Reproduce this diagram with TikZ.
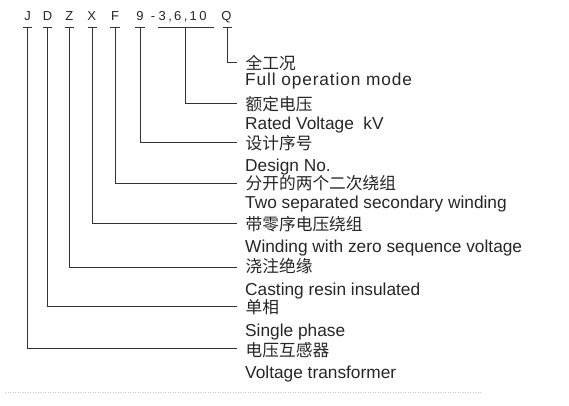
\documentclass[tikz,border=0pt]{standalone}
\usepackage{fontspec}
\setmainfont{Liberation Sans}
\newfontfamily\cjk{Noto Sans CJK SC}
\begin{document}
\begin{tikzpicture}[x=1pt,y=-1pt,
  lbl/.style={anchor=base,inner sep=0pt,font=\fontsize{13}{15}\selectfont,text=black!85},
  zh/.style={anchor=base west,inner sep=0pt,font=\cjk\fontsize{16.7}{18}\selectfont,text=black!85},
  en/.style={anchor=base west,inner sep=0pt,font=\fontsize{17.3}{20}\selectfont,text=black!85},
  ln/.style={draw=black!80,line width=0.9pt},
]
\useasboundingbox (0,0) rectangle (569,406);
% code letters
\node[lbl] (J) at (27.7,21) {J};
\node[lbl] (D) at (47.5,21) {D};
\node[lbl] (Z) at (69.3,21) {Z};
\node[lbl] (X) at (91.8,21) {X};
\node[lbl] (F) at (115,21) {F};
\node[lbl] (N) at (140,21) {9};
\node[lbl] (H) at (153,21) {-};
\node[lbl,anchor=base west] (V) at (158.5,21) {\addfontfeature{LetterSpace=18}3,6,10};
\node[lbl] (Q) at (226.5,21) {Q};
% tick points
\coordinate (tJ) at (27.7,27);
\coordinate (tD) at (47.7,27);
\coordinate (tZ) at (69.3,27);
\coordinate (tX) at (92.3,27);
\coordinate (tF) at (115,27);
\coordinate (tN) at (140,27);
\coordinate (tV) at (185.7,27);
\coordinate (tQ) at (227.7,27);
\foreach \t in {tJ,tD,tZ,tX,tF,tN,tQ}
  \draw[ln] ([xshift=-4.7pt]\t) -- ([xshift=4.7pt]\t);
\coordinate (vL) at (157.7,27);
\coordinate (vR) at (214.3,27);
\draw[ln] (vL) -- (vR);
% end points
\coordinate (eQ) at (237,62);
\coordinate (eV) at (237,103);
\coordinate (eN) at (237,142);
\coordinate (eF) at (237,183.3);
\coordinate (eX) at (237,223.5);
\coordinate (eZ) at (237,267);
\coordinate (eD) at (237,306);
\coordinate (eJ) at (237,348);
\draw[ln] (tQ) |- (eQ);
\draw[ln] (tV) |- (eV);
\draw[ln] (tN) |- (eN);
\draw[ln] (tF) |- (eF);
\draw[ln] (tX) |- (eX);
\draw[ln] (tZ) |- (eZ);
\draw[ln] (tD) |- (eD);
\draw[ln] (tJ) |- (eJ);
% texts
\node[zh] (zQ) at (245.5,69.3) {全工况};
\node[en] (nQ) at (245,85.7) {\addfontfeature{LetterSpace=5}Full operation mode};
\node[zh] (zV) at (245.5,110.8) {额定电压};
\node[en] (nV) at (245,130) {Rated Voltage\ \ kV};
\node[zh] (zN) at (245.5,149.2) {设计序号};
\node[en] (nN) at (245,171) {Design No.};
\node[zh] (zF) at (245.5,189) {分开的两个二次绕组};
\node[en] (nF) at (245,208.3) {Two separated secondary winding};
\node[zh] (zX) at (245.5,230.7) {带零序电压绕组};
\node[en] (nX) at (245,252.7) {Winding with zero sequence voltage};
\node[zh] (zZ) at (245.5,272.5) {浇注绝缘};
\node[en] (nZ) at (245,295) {Casting resin insulated};
\node[zh] (zD) at (245.5,313.8) {单相};
\node[en] (nD) at (245,336.7) {Single phase};
\node[zh] (zJ) at (245.5,356) {电压互感器};
\node[en] (nJ) at (245,378.3) {Voltage transformer};
% faint dotted separator
\coordinate (sL) at (5,392);
\coordinate (sR) at (482,392);
\draw[black!22,line width=0.6pt,dash pattern=on 0.8pt off 1.7pt] (sL) -- (sR);
\end{tikzpicture}
\end{document}
